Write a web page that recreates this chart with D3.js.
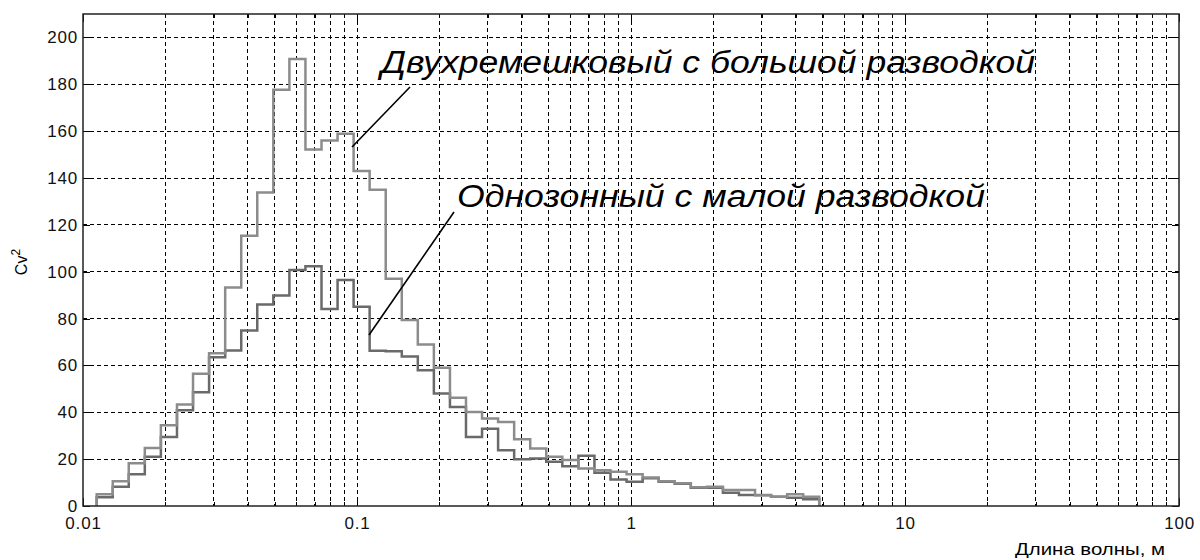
<!DOCTYPE html>
<html>
<head>
<meta charset="utf-8">
<script src="https://cdn.jsdelivr.net/npm/d3@7"></script>
<style>
  body { margin: 0; background: #fff; }
  svg { display: block; font-family: "Liberation Sans", Arial, sans-serif; }
  .tick text { font-size: 17px; letter-spacing: 0.8px; fill: #111; }
  .tick line { shape-rendering: crispEdges; }
  .grid line { stroke: #000; stroke-width: 1; stroke-dasharray: 4,3; shape-rendering: crispEdges; }
</style>
</head>
<body>
<div id="chart"></div>
<script>
// log-spaced bin edges of the histograms (m)
var binEdges = [0.01122, 0.01284, 0.01469, 0.01681, 0.01924, 0.02203, 0.02521, 0.02885,
  0.03303, 0.03780, 0.04325, 0.04950, 0.05666, 0.06484, 0.07421, 0.08493, 0.09719,
  0.1112, 0.1273, 0.1457, 0.1667, 0.1908, 0.2184, 0.2499, 0.2860, 0.3273, 0.3746,
  0.4287, 0.4906, 0.5615, 0.6427, 0.7355, 0.8418, 0.9634, 1.103, 1.262, 1.444,
  1.653, 1.892, 2.165, 2.477, 2.836, 3.245, 3.714, 4.250, 4.864];

// Двухремешковый с большой разводкой
var seriesTwoBelt = [5.0, 10.6, 18.2, 24.8, 34.5, 43.3, 56.5, 65.2, 93.3, 115.3,
  133.8, 177.7, 190.8, 152.2, 156.0, 158.9, 143.0, 135.0, 97.0, 79.4,
  68.9, 59.0, 46.2, 40.1, 37.3, 35.9, 28.5, 24.5, 21.0, 19.6,
  16.0, 15.3, 14.6, 13.6, 12.2, 10.6, 9.7, 8.0, 8.2, 6.8,
  6.8, 4.7, 4.0, 5.0, 4.0];

// Однозонный с малой разводкой
var seriesOneZone = [3.7, 8.2, 13.6, 21.0, 29.5, 40.9, 48.6, 63.5, 66.4, 74.9,
  86.0, 89.8, 100.7, 102.3, 84.1, 96.5, 85.0, 66.3, 66.1, 63.8,
  57.9, 48.0, 42.3, 29.5, 33.0, 23.8, 20.0, 20.3, 18.9, 17.0,
  21.4, 14.2, 11.3, 10.4, 11.8, 10.4, 9.5, 7.8, 7.8, 5.7,
  4.7, 4.6, 3.9, 3.5, 2.9];

var yTicks = [0, 20, 40, 60, 80, 100, 120, 140, 160, 180, 200];
var xMajorTicks = [0.01, 0.1, 1, 10, 100];
var xMinorTicks = [];
xMajorTicks.slice(0, -1).forEach(function (d) {
  for (var m = 2; m <= 9; m++) xMinorTicks.push(d * m);
});

var margin = {top: 14, right: 21, bottom: 54, left: 83};
var W = 1200, H = 560;
var width = W - margin.left - margin.right;
var height = H - margin.top - margin.bottom;

var svg = d3.select("#chart").append("svg")
  .attr("width", W).attr("height", H);
var g = svg.append("g")
  .attr("transform", "translate(" + margin.left + "," + margin.top + ")");

var x = d3.scaleLog().domain([0.01, 100]).range([0, width]);
var y = d3.scaleLinear().domain([0, 210]).range([height, 0]);

// grid: vertical at every decade and sub-decade, horizontal at y ticks
var grid = g.append("g").attr("class", "grid");
grid.selectAll(".vg").data(xMajorTicks.slice(1, -1).concat(xMinorTicks)).enter()
  .append("line")
  .attr("x1", function (d) { return x(d); }).attr("x2", function (d) { return x(d); })
  .attr("y1", 0).attr("y2", height);
grid.selectAll(".hg").data(yTicks.slice(1)).enter()
  .append("line")
  .attr("x1", 0).attr("x2", width)
  .attr("y1", function (d) { return y(d); }).attr("y2", function (d) { return y(d); });

// step curves
function stepPoints(vals) {
  var pts = [[binEdges[0], 0]];
  vals.forEach(function (v, i) { pts.push([binEdges[i], v]); });
  pts.push([binEdges[vals.length], vals[vals.length - 1]]);
  pts.push([binEdges[vals.length], 0]);
  return pts;
}
var line = d3.line()
  .x(function (d) { return x(d[0]); })
  .y(function (d) { return y(d[1]); })
  .curve(d3.curveStepAfter);

g.append("path").datum(stepPoints(seriesOneZone))
  .attr("fill", "none").attr("stroke", "#6a6a6a").attr("stroke-width", 2.5)
  .attr("d", line);
g.append("path").datum(stepPoints(seriesTwoBelt))
  .attr("fill", "none").attr("stroke", "#8c8c8c").attr("stroke-width", 2.5)
  .attr("d", line);

// axes (ticks inward on all four sides)
var xAxis = g.append("g").attr("transform", "translate(0," + height + ")")
  .call(d3.axisBottom(x).tickValues(xMajorTicks).tickFormat(d3.format("")).tickSizeInner(-8).tickSizeOuter(0).tickPadding(11));
xAxis.selectAll(".tick text").attr("dy", "0.71em");
var xMinorB = g.append("g").attr("transform", "translate(0," + height + ")")
  .call(d3.axisBottom(x).tickValues(xMinorTicks).tickFormat("").tickSizeInner(-4).tickSizeOuter(0));
var xTop = g.append("g")
  .call(d3.axisTop(x).tickValues(xMajorTicks).tickFormat("").tickSizeInner(-8).tickSizeOuter(0));
var xMinorT = g.append("g")
  .call(d3.axisTop(x).tickValues(xMinorTicks).tickFormat("").tickSizeInner(-4).tickSizeOuter(0));
var yAxis = g.append("g")
  .call(d3.axisLeft(y).tickValues(yTicks).tickSizeInner(-7).tickSizeOuter(0).tickPadding(5));
var yRight = g.append("g").attr("transform", "translate(" + width + ",0)")
  .call(d3.axisRight(y).tickValues(yTicks).tickFormat("").tickSizeInner(-7).tickSizeOuter(0));

[xAxis, xMinorB, xTop, xMinorT, yAxis, yRight].forEach(function (a) {
  a.select(".domain").remove();
  a.selectAll(".tick line").attr("stroke", "#000");
});

// box
g.append("rect").attr("width", width).attr("height", height)
  .attr("fill", "none").attr("stroke", "#222").attr("stroke-width", 1.5);

// axis labels
svg.append("text")
  .attr("transform", "translate(27,262) rotate(-90)")
  .attr("text-anchor", "middle")
  .style("font-size", "16px")
  .html("Cv<tspan dy='-7' font-size='12px'>2</tspan>");

svg.append("text")
  .attr("x", 1015).attr("y", 555)
  .attr("textLength", 150).attr("lengthAdjust", "spacingAndGlyphs")
  .style("font-size", "17px")
  .text("Длина волны, м");

// annotations with leader lines
svg.append("line").attr("x1", 410).attr("y1", 87).attr("x2", 352).attr("y2", 147)
  .attr("stroke", "#000").attr("stroke-width", 1.6);
svg.append("line").attr("x1", 454).attr("y1", 212).attr("x2", 369).attr("y2", 335)
  .attr("stroke", "#000").attr("stroke-width", 1.6);

svg.append("text")
  .attr("x", 381).attr("y", 73)
  .attr("textLength", 654).attr("lengthAdjust", "spacingAndGlyphs")
  .style("font-size", "31px").style("font-style", "italic")
  .text("Двухремешковый с большой разводкой");
svg.append("text")
  .attr("x", 457).attr("y", 207)
  .attr("textLength", 528).attr("lengthAdjust", "spacingAndGlyphs")
  .style("font-size", "31px").style("font-style", "italic")
  .text("Однозонный с малой разводкой");
</script>
</body>
</html>
